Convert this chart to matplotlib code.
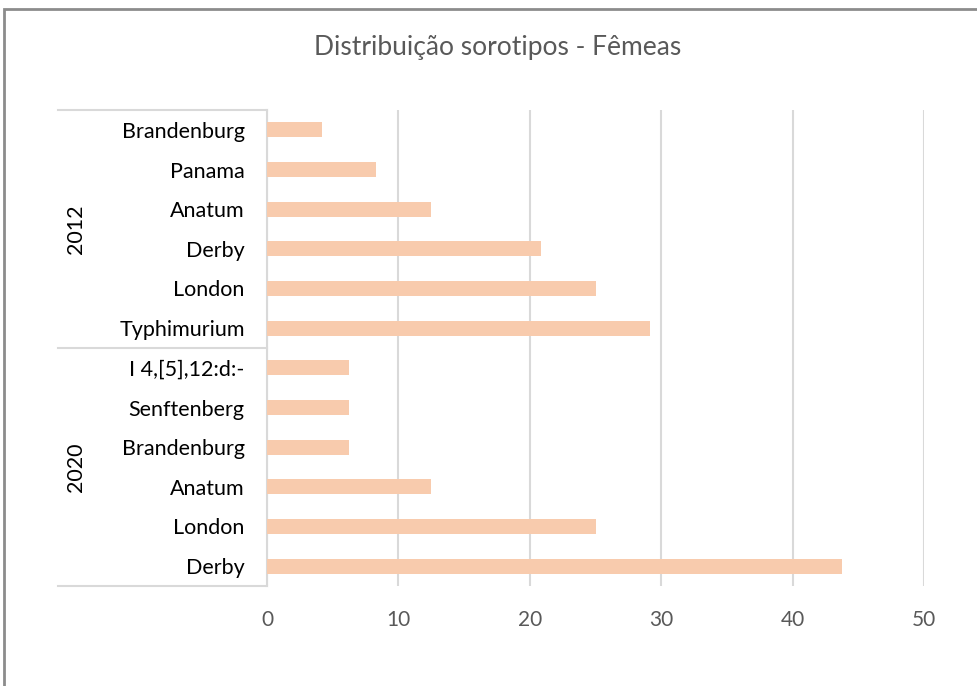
import matplotlib.pyplot as plt
from matplotlib.patches import Rectangle
import numpy as np

plt.rcParams['font.family'] = ['Lato', 'DejaVu Sans']

# data (top to bottom as shown)
groups = ['2012', '2020']
cats_2012 = ['Brandenburg', 'Panama', 'Anatum', 'Derby', 'London', 'Typhimurium']
vals_2012 = [4.17, 8.33, 12.5, 20.83, 25.0, 29.17]
cats_2020 = ['I 4,[5],12:d:-', 'Senftenberg', 'Brandenburg', 'Anatum', 'London', 'Derby']
vals_2020 = [6.25, 6.25, 6.25, 12.5, 25.0, 43.75]
xticks = [0, 10, 20, 30, 40, 50]

labels = cats_2012 + cats_2020
values = vals_2012 + vals_2020
n = len(labels)
ypos = np.arange(n)[::-1]  # first label on top

grey = '#595959'
gridc = '#D9D9D9'

fig = plt.figure(figsize=(9.77, 6.86), dpi=100)
ax = fig.add_axes([267/977, 1-586/686, 657/977, 476/686])

ax.barh(ypos, values, height=0.38, color='#F8CBAD', zorder=3)
ax.set_ylim(-0.5, n - 0.5)
ax.set_xlim(0, 50)
ax.set_xticks(xticks)
ax.set_xticklabels([str(t) for t in xticks], color=grey, fontsize=15)
ax.tick_params(axis='x', length=0, pad=17)
ax.tick_params(axis='y', length=0, pad=16)
ax.set_yticks(ypos)
ax.set_yticklabels(labels, fontsize=15.5, color='black')
ax.grid(axis='x', color=gridc, linewidth=1.5, zorder=0)
for s in ['top', 'right', 'bottom']:
    ax.spines[s].set_visible(False)
ax.spines['left'].set_color(gridc)
ax.spines['left'].set_linewidth(1.5)

# group separators and labels on the left
trans = ax.get_yaxis_transform()
left_x = (58 - 267) / 657
sizes = [len(cats_2012), len(cats_2020)]
edges = [n - 0.5]
for s in sizes:
    edges.append(edges[-1] - s)
for e in edges:
    ax.plot([left_x, 0], [e, e], transform=trans, color=gridc, lw=1.5, clip_on=False)
label_x = (76 - 267) / 657
for g, top, bot in zip(groups, edges[:-1], edges[1:]):
    ax.text(label_x, (top + bot) / 2, g, transform=trans, rotation=90,
            ha='center', va='center', fontsize=15.5, color='black')

fig.text(498/977, 1-47/686, 'Distribuição sorotipos - Fêmeas', ha='center', va='center',
         fontsize=19, color=grey)

# outer chart border
fig.patches.append(Rectangle((4/977, -0.1), 1.2, (1 - 9/686) + 0.1, transform=fig.transFigure,
                             fill=False, edgecolor='#8C8C8C', linewidth=2))

fig.savefig('out.png', dpi=100)
